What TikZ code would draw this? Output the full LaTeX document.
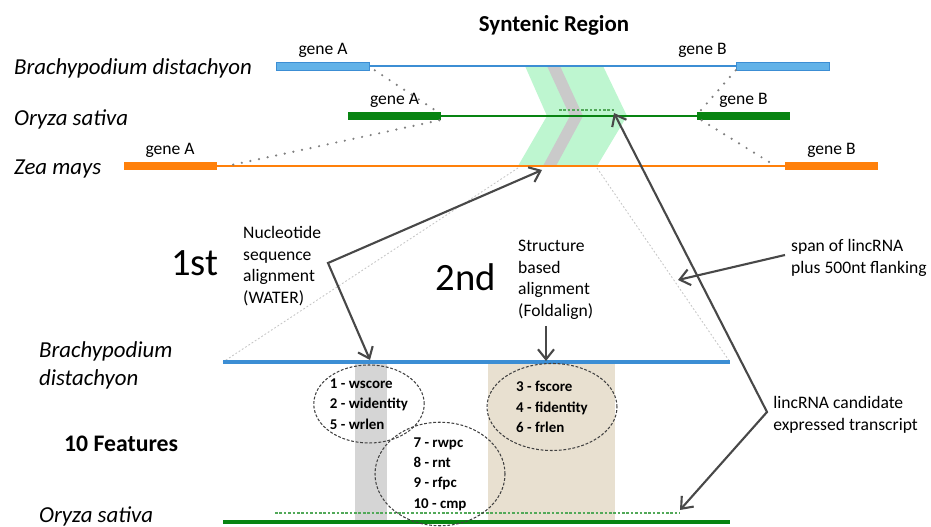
\documentclass[tikz,border=0pt]{standalone}
\usepackage{fontspec}
\setmainfont{Carlito}
\usetikzlibrary{arrows.meta,shapes.geometric}

\definecolor{bdblue}{RGB}{60,142,212}
\definecolor{bdbox}{RGB}{98,178,232}
\definecolor{osgreen}{RGB}{8,132,18}
\definecolor{zmorange}{RGB}{255,128,10}
\definecolor{chevgreen}{RGB}{190,246,208}
\definecolor{bandgrey}{RGB}{202,202,202}
\definecolor{bandtan}{RGB}{232,224,208}
\definecolor{arrowgrey}{RGB}{72,72,72}

\tikzset{
 gene/.style={rectangle,minimum width=1.86cm,minimum height=0.16cm,inner sep=0pt,fill=#1},
 genelbl/.style={font=\fontsize{10}{12}\selectfont,inner sep=2pt},
 species/.style={font=\fontsize{13}{16}\selectfont\itshape,anchor=west,align=left,inner sep=1pt},
 gdots/.style={draw=gray,line width=1.4pt,line cap=round,dash pattern=on 0pt off 5pt},
 fdots/.style={draw=gray!45,line width=0.5pt,dash pattern=on 1pt off 1.2pt},
 pointer/.style={draw=arrowgrey,line width=1.2pt,-{Straight Barb[length=2mm,width=3.2mm]}},
 twoway/.style={pointer,{Straight Barb[length=2mm,width=3.2mm]}-{Straight Barb[length=2mm,width=3.2mm]}},
 note/.style={font=\fontsize{10}{12.3}\selectfont,align=left,anchor=west},
 feat/.style={ellipse,draw=black!75,line width=0.6pt,dash pattern=on 1.6pt off 1pt,inner sep=0pt,
   font=\fontsize{8.5}{11.6}\selectfont\bfseries,align=left},
}

\begin{document}
\begin{tikzpicture}
 \useasboundingbox (0,0) rectangle (18.62,10.54);

 %syntenic region chevron
 \fill[chevgreen] (10.50,9.22) -- (12.06,9.22) -- (12.54,8.22) -- (11.94,7.22)
   -- (10.36,7.22) -- (10.94,8.22) -- cycle;
 \fill[bandgrey] (10.94,9.22) -- (11.20,9.22) -- (11.66,8.22) -- (11.12,7.22)
   -- (10.86,7.22) -- (11.40,8.22) -- cycle;
 \coordinate (chBL) at (10.36,7.18);
 \coordinate (chBR) at (11.94,7.18);

 \node[font=\fontsize{13}{15}\selectfont\bfseries] (title) at (11.08,10.04) {Syntenic Region};

 %species rows
 \node[species] (bdName) at (0.24,9.18) {Brachypodium distachyon};
 \node[species] (osName) at (0.24,8.16) {Oryza sativa};
 \node[species] (zmName) at (0.24,7.16) {Zea mays};

 \node[gene=bdbox,draw=bdblue,line width=0.4pt,label={[genelbl]above:gene A}] (bdA) at (6.46,9.22) {};
 \node[gene=bdbox,draw=bdblue,line width=0.4pt,label={[genelbl,xshift=-1.6cm]above:gene B}] (bdB) at (15.65,9.22) {};
 \node[gene=osgreen,label={[genelbl]above:gene A}] (osA) at (7.89,8.22) {};
 \node[gene=osgreen,label={[genelbl]above:gene B}] (osB) at (14.87,8.22) {};
 \node[gene=zmorange,label={[genelbl]above:gene A}] (zmA) at (3.40,7.22) {};
 \node[gene=zmorange,label={[genelbl]above:gene B}] (zmB) at (16.63,7.22) {};

 \draw[bdblue,line width=1.2pt] (bdA.east) -- (bdB.west);
 \draw[osgreen,line width=1.2pt] (osA.east) -- (osB.west);
 \draw[zmorange,line width=1.2pt] (zmA.east) -- (zmB.west);
 \draw[osgreen!70,line width=0.6pt,dash pattern=on 1.5pt off 1pt] (11.18,8.34) coordinate (osHitL) -- (12.28,8.34) coordinate (osHit);

 %gene links
 \draw[gdots] ([xshift=0.1cm]bdA.south east) -- ([xshift=-0.08cm]osA.north east);
 \draw[gdots] ([xshift=-0.04cm]osA.south east) -- ([xshift=0.2cm]zmA.east);
 \draw[gdots] (bdB.south west) -- ([xshift=0.06cm]osB.north west);
 \draw[gdots] ([xshift=0.1cm]osB.south west) -- ([xshift=-0.18cm]zmB.west);

 %zoomed alignment
 \coordinate (bdL) at (4.46,3.30);
 \coordinate (bdR) at (14.60,3.30);
 \coordinate (osL) at (4.46,0.10);
 \coordinate (osR) at (14.60,0.10);
 \fill[bandgrey!80] (7.10,0.10) rectangle (7.74,3.26);
 \fill[bandtan] (9.76,0.10) rectangle (12.30,3.26);
 \draw[fdots] (chBL) -- (bdL);
 \draw[fdots] (chBR) -- (bdR);
 \draw[bdblue,line width=1.8pt] (bdL) -- (bdR);
 \draw[osgreen,line width=2.3pt] (osL) -- (osR);
 \draw[osgreen!70,line width=0.6pt,dash pattern=on 1.5pt off 1pt] (5.50,0.28) -- (13.60,0.28) coordinate (osCand);

 \node[species] (bdName2) at (0.74,3.24) {Brachypodium\\distachyon};
 \node[species] (osName2) at (0.74,0.22) {Oryza sativa};
 \node[anchor=west,font=\fontsize{13.5}{16}\selectfont\bfseries] (nfeat) at (1.16,1.66) {10 Features};

 \node[feat,minimum width=1.90cm,minimum height=1.56cm] (wfeat) at (7.38,2.46) {1 - wscore\\2 - widentity\\5 - wrlen};
 \node[feat,minimum width=2.60cm,minimum height=1.64cm] (rfeat) at (8.80,1.06) {7 - rwpc\\8 - rnt\\9 - rfpc\\10 - cmp};
 \node[feat,minimum width=2.60cm,minimum height=1.74cm] (ffeat) at (11.04,2.40) {3 - fscore\\4 - fidentity\\6 - frlen};

 %alignment steps
 \node[font=\fontsize{22}{24}\selectfont] (first) at (3.90,5.28) {1st};
 \node[note] (water) at (4.74,5.22) {Nucleotide\\sequence\\alignment\\(WATER)};
 \node[font=\fontsize{22}{24}\selectfont] (second) at (9.32,5.00) {2nd};
 \node[note] (fold) at (10.24,4.94) {Structure\\based\\alignment\\(Foldalign)};
 \node[note] (span) at (15.70,5.38) {span of lincRNA\\plus 500nt flanking};
 \node[note,inner sep=0pt] (cand) at (15.46,2.24) {lincRNA candidate\\expressed transcript};

 \coordinate (bend1) at (6.56,5.28);
 \coordinate (zmHit) at (10.84,7.14);
 \coordinate (bdHit) at (7.40,3.34);
 \coordinate (bend2) at (15.34,2.30);
 \draw[twoway] (zmHit) -- (bend1) -- (bdHit);
 \draw[pointer] (fold.south -| 10.92,0) -- (10.92,3.32);
 \draw[pointer] ([yshift=0.06cm]span.west) -- (13.56,4.94);
 \draw[twoway] ([yshift=-0.06cm]osHit) -- (bend2) -- ([yshift=0.06cm]osCand);
\end{tikzpicture}
\end{document}
